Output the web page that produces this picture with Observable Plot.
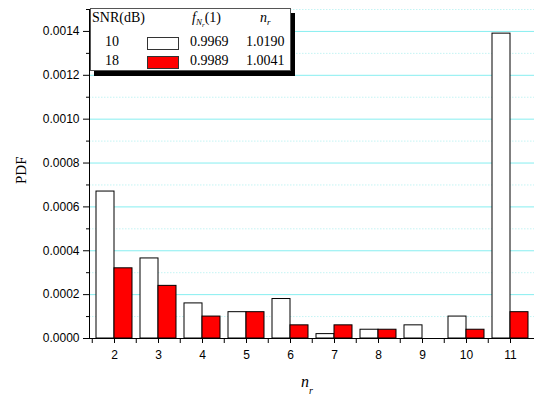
<!DOCTYPE html>
<html><head><meta charset="utf-8">
<script src="https://cdn.jsdelivr.net/npm/d3@7"></script>
<script src="https://cdn.jsdelivr.net/npm/@observablehq/plot@0.6"></script>
<style>
body{margin:0;background:#fff;}
#wrap{position:relative;width:534px;height:396px;overflow:hidden;background:#fff;}
#legend{position:absolute;left:90px;top:8px;width:199px;height:61px;background:#fff;border:1px solid #555;box-shadow:4px 5px 0 #000;font-family:"Liberation Serif","Times New Roman",serif;font-size:14px;color:#000;}
#legend span.t{position:absolute;white-space:nowrap;line-height:1;}
#legend .sw{position:absolute;width:30px;height:11px;border:1px solid #333;}
#legend sub{font-size:9px;vertical-align:-3px;}
#legend sub sub{font-size:7px;vertical-align:-2px;}
</style></head><body><div id="wrap"></div>
<script>
// data
const categories = [2, 3, 4, 5, 6, 7, 8, 9, 10, 11];
const pdfSnr10 = [0.00067, 0.000365, 0.00016, 0.00012, 0.00018, 0.00002, 0.00004, 0.00006, 0.0001, 0.00139];
const pdfSnr18 = [0.00032, 0.00024, 0.0001, 0.00012, 0.00006, 0.00006, 0.00004, 0, 0.00004, 0.00012];
const seriesSnr = ["10", "18"];
const seriesColors = ["#ffffff", "#ff0000"];
const seriesFN1 = ["0.9969", "0.9989"];
const seriesNr = ["1.0190", "1.0041"];
const majorTicks = [0, 0.0002, 0.0004, 0.0006, 0.0008, 0.0010, 0.0012, 0.0014];
const minorTicks = [0.0001, 0.0003, 0.0005, 0.0007, 0.0009, 0.0011, 0.0013, 0.0015];

const rows10 = categories.map((c, i) => ({nr: String(c), v: pdfSnr10[i]}));
const rows18 = categories.map((c, i) => ({nr: String(c), v: pdfSnr18[i]}));

const serif = '"Liberation Serif","Times New Roman",serif';

const plot = Plot.plot({
  width: 534, height: 396,
  marginLeft: 89, marginRight: 0, marginTop: 9, marginBottom: 58,
  style: {fontFamily: '"Liberation Sans",Arial,sans-serif', fontSize: "12px", color: "#000", background: "#fff"},
  x: {domain: categories.map(String), paddingInner: 0.19, paddingOuter: 0.095, label: null},
  y: {domain: [0, 0.0015], label: null},
  marks: [
    Plot.ruleY(minorTicks, {stroke: "#c4f4f4", strokeDasharray: "1.5,1.5"}),
    Plot.ruleY(majorTicks.filter(d => d > 0), {stroke: "#86eef0", strokeWidth: 1}),
    Plot.barY(rows10, {x: "nr", y: "v", fill: seriesColors[0], stroke: "#000", strokeWidth: 1, insetRight: 18}),
    Plot.barY(rows18, {x: "nr", y: "v", fill: seriesColors[1], stroke: "#000", strokeWidth: 1, insetLeft: 18}),
    Plot.axisY(majorTicks, {tickFormat: d3.format(".4f"), tickSize: 6, tickPadding: 4, label: null}),
    Plot.axisY(minorTicks, {tickSize: 3, fill: "none", label: null}),
    Plot.axisX({tickSize: 5, tickPadding: 7, label: null}),
    Plot.axisX({tickSize: 5, fill: "none", dx: -22.25, label: null}),
    Plot.frame({anchor: "left", stroke: "#000"}),
    Plot.frame({anchor: "bottom", stroke: "#000"}),
    Plot.text(["PDF"], {frameAnchor: "left", rotate: -90, dx: -68, dy: 10, fontSize: 15, fontFamily: serif}),
    Plot.text(["n"], {frameAnchor: "bottom", dx: -7, dy: 48, fontSize: 16, fontStyle: "italic", fontFamily: serif}),
    Plot.text(["r"], {frameAnchor: "bottom", dx: -1, dy: 55, fontSize: 10, fontStyle: "italic", fontFamily: serif})
  ]
});
const wrap = document.getElementById("wrap");
wrap.appendChild(plot);

// legend (inside the plot area)
const lg = document.createElement("div");
lg.id = "legend";
let html = '<span class="t" style="left:1px;top:2px">SNR(dB)</span>' +
  '<span class="t" style="left:101px;top:2px"><i>f</i><sub><i>N</i><sub><i>r</i></sub></sub>(1)</span>' +
  '<span class="t" style="left:169px;top:2px"><i>n</i><sub><i>r</i></sub></span>';
const rowTops = [26, 45];
seriesSnr.forEach((s, i) => {
  const t = rowTops[i];
  html += `<span class="t" style="left:14px;top:${t}px">${s}</span>`;
  html += `<div class="sw" style="left:56px;top:${t + 2}px;background:${seriesColors[i]}"></div>`;
  html += `<span class="t" style="left:99px;top:${t}px">${seriesFN1[i]}</span>`;
  html += `<span class="t" style="left:155px;top:${t}px">${seriesNr[i]}</span>`;
});
lg.innerHTML = html;
wrap.appendChild(lg);
</script></body></html>
